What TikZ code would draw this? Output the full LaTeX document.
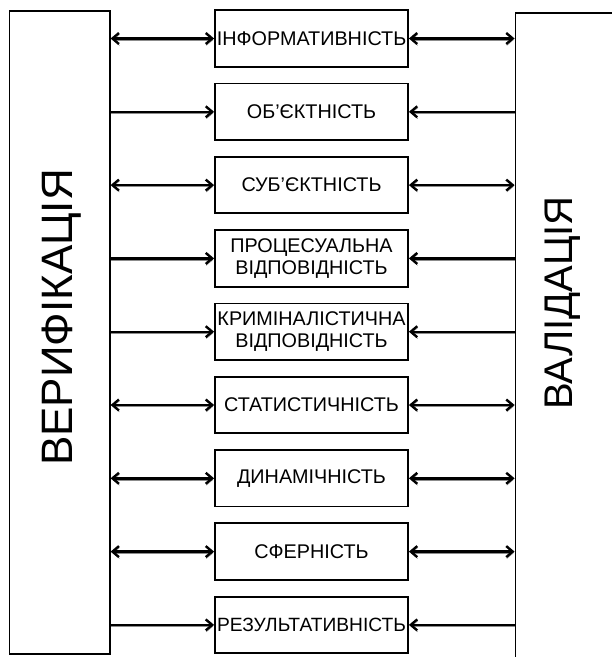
\documentclass[tikz,border=0pt]{standalone}
\usepackage{fontspec}
\setmainfont{Liberation Sans}
\usetikzlibrary{arrows.meta}
\begin{document}
\begin{tikzpicture}[x=1pt,y=-1pt,
  item/.style={draw, line width=1.8pt, minimum width=193pt, minimum height=56.5pt, inner sep=1pt, align=center, font=\fontsize{19.8}{21.5}\selectfont},
  side/.style={draw, line width=1.8pt, inner sep=0pt},
  bigtext/.style={rotate=90, anchor=base, inner sep=0pt},
  tipb/.tip={Straight Barb[length=6.5pt,width=11pt,line width=2.4pt]},
  con/.style={line width=2.4pt, -tipb},
  both/.style={line width=2.4pt, tipb-tipb},
  shade/.style={preaction={draw=black!45, transform canvas={shift={(0.6pt,-1.5pt)}}}}
]
\useasboundingbox (0,0) rectangle (612,657);
\clip (0,0) rectangle (612,657);

% side blocks
\node[side, minimum width=100.2pt, minimum height=643pt, anchor=north west] (ver) at (8.6,10) {};
\node[side, minimum width=150pt, minimum height=700pt, anchor=north west] (val) at (514.6,11.8) {};
\node[bigtext, font=\fontsize{44}{44}\selectfont] (vertext) at (72,317.5) {ВЕРИФІКАЦІЯ};
\node[bigtext, font=\fontsize{40}{40}\selectfont] (valtext) at (572,303) {ВАЛІДАЦІЯ};

% middle boxes
\node[item] (b1) at (311.5,38.5) {ІНФОРМАТИВНІСТЬ};
\node[item] (b2) at (311.5,111.8) {ОБ’ЄКТНІСТЬ};
\node[item] (b3) at (311.5,185.1) {СУБ’ЄКТНІСТЬ};
\node[item] (b4) at (311.5,258.4) {ПРОЦЕСУАЛЬНА\\ВІДПОВІДНІСТЬ};
\node[item] (b5) at (311.5,331.7) {КРИМІНАЛІСТИЧНА\\ВІДПОВІДНІСТЬ};
\node[item] (b6) at (311.5,405) {СТАТИСТИЧНІСТЬ};
\node[item] (b7) at (311.5,478.3) {ДИНАМІЧНІСТЬ};
\node[item] (b8) at (311.5,551.6) {СФЕРНІСТЬ};
\node[item, inner xsep=0pt, font=\fontsize{19.2}{21.5}\selectfont] (b9) at (311.5,624.9) {РЕЗУЛЬТАТИВНІСТЬ};

% two-way connectors
\foreach \b in {b1,b3,b6,b7,b8}{
  \draw[both, shade] (ver.east |- \b.west) -- (\b.west);
  \draw[both, shade] (\b.east) -- (\b.east -| val.west);
}
% one-way connectors
\foreach \b in {b2,b4,b5,b9}{
  \draw[con, shade] (ver.east |- \b.west) -- (\b.west);
  \draw[con, shade] (\b.east -| val.west) -- (\b.east);
}
\end{tikzpicture}
\end{document}
